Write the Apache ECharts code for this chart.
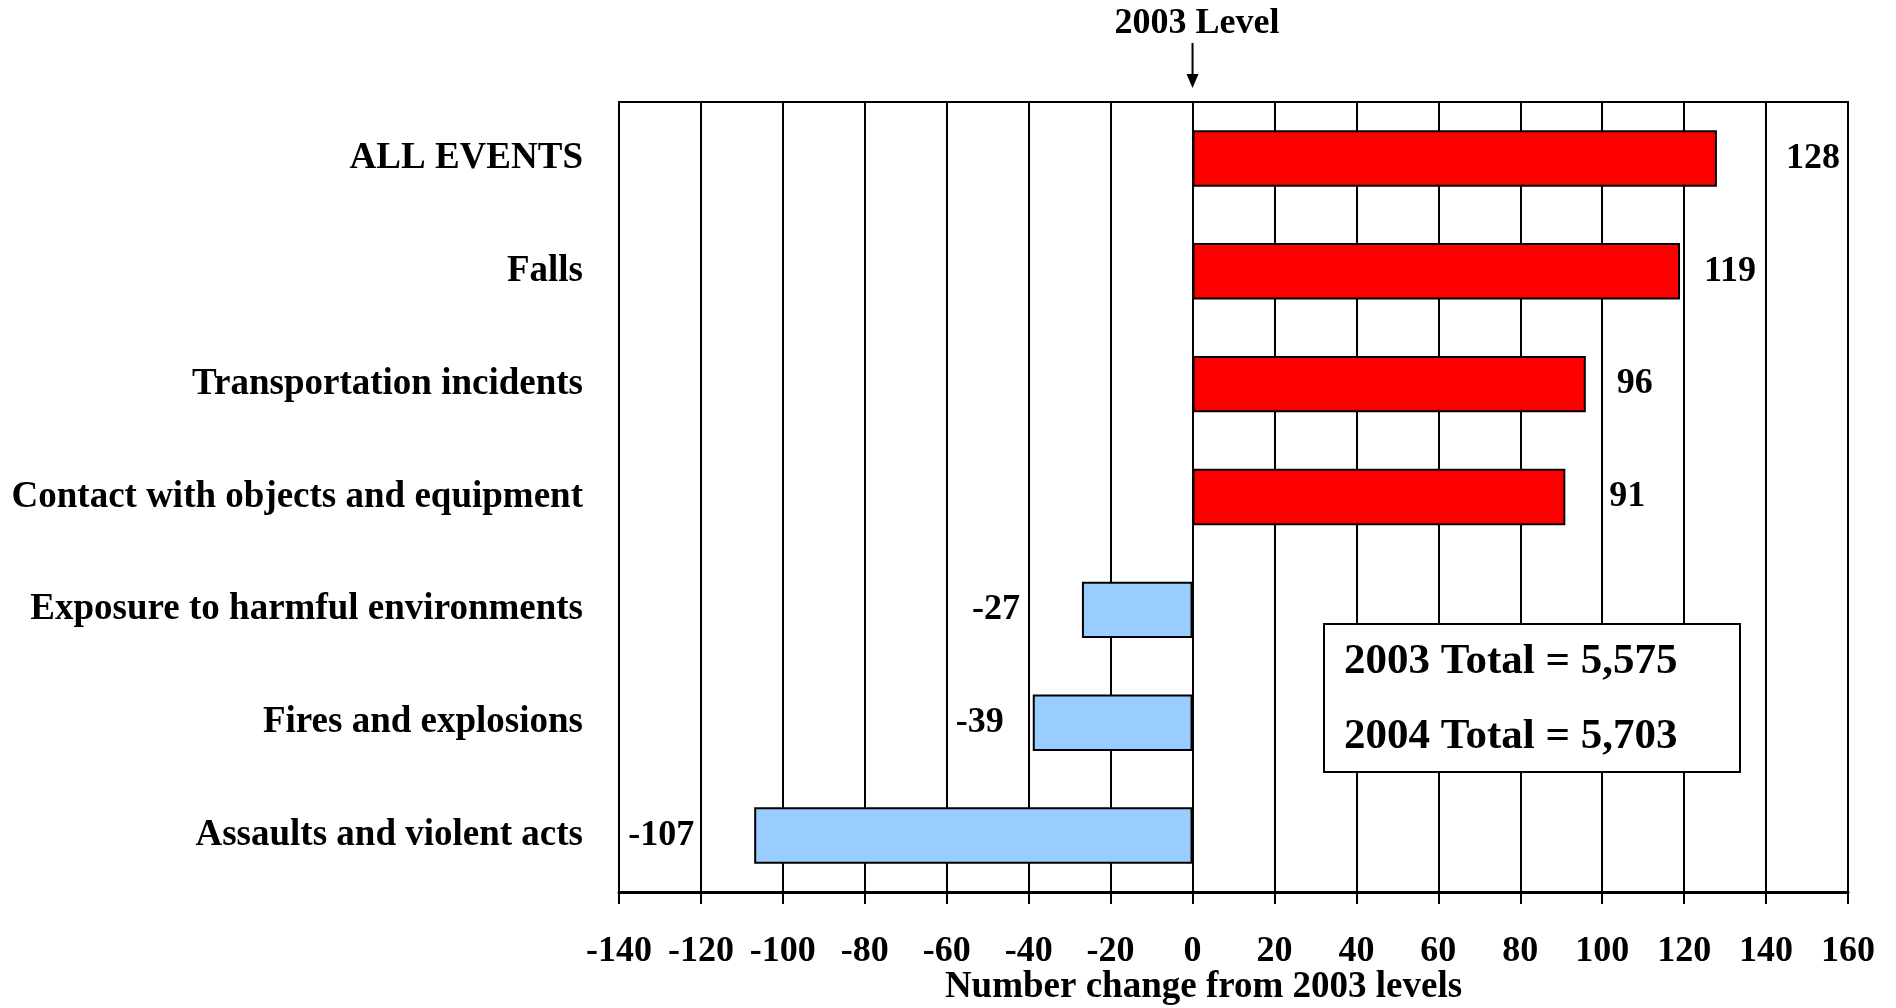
<!DOCTYPE html>
<html>
<head>
<meta charset="utf-8">
<script src="https://cdn.jsdelivr.net/npm/echarts@6/dist/echarts.min.js"></script>
<style>
  html, body { margin: 0; padding: 0; background: #fff; }
  #chart { width: 1896px; height: 1008px; }
</style>
</head>
<body>
<div id="chart"></div>
<script>
  // event types, top to bottom
  var categories = [
    'ALL EVENTS',
    'Falls',
    'Transportation incidents',
    'Contact with objects and equipment',
    'Exposure to harmful environments',
    'Fires and explosions',
    'Assaults and violent acts'
  ]
  // number change from 2003 levels
  var changes = [128, 119, 96, 91, -27, -39, -107]
  var totals = ['2003 Total = 5,575', '2004 Total = 5,703']
  var xMin = -140
  var xMax = 160
  var xStep = 20

  // gap between bar end and its value label (px), as in the original
  var labelGap = [69, 24, 31, 44, 62, 29, 60]

  var FONT = "'Liberation Serif', 'Times New Roman', serif"

  var barData = changes.map(function(v, i) {
    return {
      value: v,
      itemStyle: { color: v >= 0 ? '#FF0000' : '#99CCFF' },
      label: { position: v >= 0 ? 'right' : 'left', distance: labelGap[i] }
    }
  })

  var myChart = echarts.init(document.getElementById('chart'))
  myChart.setOption({
    backgroundColor: '#ffffff',
    animation: false,
    grid: {
      left: 619, right: 48, top: 102, bottom: 116,
      outerBoundsMode: 'none',
      containLabel: false,
      show: true, borderColor: '#000', borderWidth: 2
    },
    xAxis: {
      type: 'value',
      min: xMin, max: xMax, interval: xStep,
      name: 'Number change from 2003 levels',
      nameLocation: 'middle',
      nameMoveOverlap: false,
      nameGap: 95,
      nameTextStyle: {
        fontFamily: FONT, fontWeight: 'bold', fontSize: 37, color: '#000',
        verticalAlign: 'middle',
        padding: [0, 60, 0, 0]
      },
      axisLine: { show: true, lineStyle: { color: '#000', width: 3 } },
      axisTick: { show: true, length: 12, lineStyle: { color: '#000', width: 2 } },
      axisLabel: {
        margin: 42,
        fontFamily: FONT, fontWeight: 'bold', fontSize: 36, color: '#000'
      },
      splitLine: { show: true, lineStyle: { color: '#000', width: 2 } }
    },
    yAxis: {
      type: 'category',
      inverse: true,
      data: categories,
      axisLine: { show: true, lineStyle: { color: '#000', width: 2 } },
      axisTick: { show: false },
      axisLabel: {
        margin: 36,
        fontFamily: FONT, fontWeight: 'bold', fontSize: 37, color: '#000'
      },
      splitLine: { show: false }
    },
    series: [{
      type: 'bar',
      data: barData,
      barWidth: '50%',
      itemStyle: { borderColor: '#000', borderWidth: 2 },
      label: {
        show: true,
        fontFamily: FONT, fontWeight: 'bold', fontSize: 36, color: '#000'
      }
    }]
  })

  // "2003 Level" marker sits above the zero line
  var x0 = myChart.convertToPixel({ xAxisIndex: 0 }, 0)
  myChart.setOption({
    graphic: [
      {
        type: 'text', left: x0 + 6 - 84, top: 6,
        style: { text: '2003 Level', fontFamily: FONT, fontWeight: 'bold', fontSize: 36, fill: '#000' }
      },
      {
        type: 'line',
        shape: { x1: x0, y1: 43, x2: x0, y2: 76 },
        style: { stroke: '#000', lineWidth: 2 }
      },
      {
        type: 'polygon',
        shape: { points: [[x0 - 6, 74], [x0 + 6, 74], [x0, 88]] },
        style: { fill: '#000' }
      },
      {
        type: 'group', left: 1323, top: 623,
        children: [
          {
            type: 'rect',
            shape: { x: 0, y: 0, width: 416, height: 148 },
            style: { fill: '#fff', stroke: '#000', lineWidth: 2 }
          },
          {
            type: 'text', x: 20, y: 38,
            style: { text: totals[0], fontFamily: FONT, fontWeight: 'bold', fontSize: 43, fill: '#000', verticalAlign: 'middle' }
          },
          {
            type: 'text', x: 20, y: 113,
            style: { text: totals[1], fontFamily: FONT, fontWeight: 'bold', fontSize: 43, fill: '#000', verticalAlign: 'middle' }
          }
        ]
      }
    ]
  })
</script>
</body>
</html>
